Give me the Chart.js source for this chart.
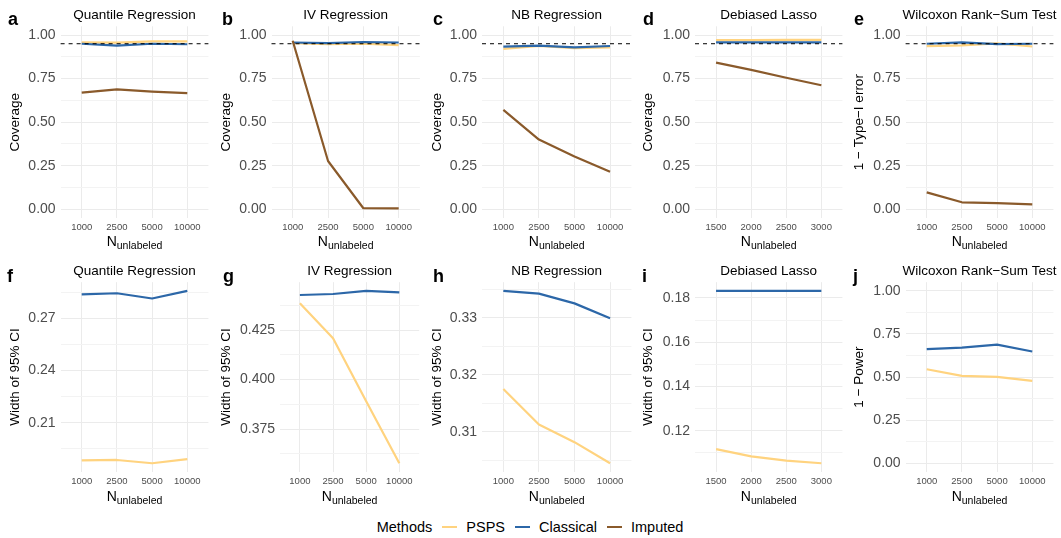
<!DOCTYPE html>
<html>
<head>
<meta charset="utf-8">
<script src="https://cdn.jsdelivr.net/npm/chart.js@4.4.1/dist/chart.umd.min.js"></script>
<style>
  body { margin: 0; background: #fff; width: 1061px; height: 538px; position: relative; overflow: hidden;
         font-family: "Liberation Sans", Arial, sans-serif; }
  canvas { position: absolute; }
  #legend { position: absolute; left: 376.7px; top: 517px; height: 20px; display: flex; align-items: center;
            font-size: 14.5px; color: #000; white-space: nowrap; }
  .sw { display: inline-block; width: 14.6px; height: 2px; margin: 0 9.4px 0 10px; }
</style>
</head>
<body>
<div id="legend">
  <span>Methods</span>
  <span class="sw" style="background:#FFD37F"></span><span>PSPS</span>
  <span class="sw" style="background:#2C67A8"></span><span>Classical</span>
  <span class="sw" style="background:#8A5A2B"></span><span>Imputed</span>
</div>
<script>
// categories on the x axis
const nUnlab = ['1000', '2500', '5000', '10000'];
const nUnlabLasso = ['1500', '2000', '2500', '3000'];

// a  Quantile regression, coverage
const qrCovPSPS = [0.958, 0.956, 0.964, 0.964];
const qrCovClassical = [0.950, 0.939, 0.950, 0.947];
const qrCovImputed = [0.669, 0.688, 0.675, 0.666];
// b  IV regression, coverage
const ivCovPSPS = [0.953, 0.947, 0.951, 0.942];
const ivCovClassical = [0.957, 0.953, 0.960, 0.957];
const ivCovImputed = [0.967, 0.277, 0.006, 0.005];
// c  NB regression, coverage
const nbCovPSPS = [0.920, 0.937, 0.924, 0.929];
const nbCovClassical = [0.933, 0.939, 0.929, 0.937];
const nbCovImputed = [0.570, 0.400, 0.303, 0.215];
// d  Debiased lasso, coverage
const lassoCovPSPS = [0.971, 0.971, 0.972, 0.972];
const lassoCovClassical = [0.958, 0.958, 0.958, 0.958];
const lassoCovImputed = [0.842, 0.800, 0.755, 0.712];
// e  Wilcoxon, 1 - type I error
const wilTypePSPS = [0.936, 0.940, 0.952, 0.934];
const wilTypeClassical = [0.950, 0.958, 0.948, 0.950];
const wilTypeImputed = [0.097, 0.040, 0.035, 0.028];
// f-i  width of 95% CI
const qrWidthPSPS = [0.1884, 0.1886, 0.1867, 0.1891];
const qrWidthClassical = [0.2838, 0.2845, 0.2815, 0.2859];
const ivWidthPSPS = [0.4385, 0.4208, 0.3890, 0.3577];
const ivWidthClassical = [0.4427, 0.4432, 0.4448, 0.4440];
const nbWidthPSPS = [0.3175, 0.3113, 0.3082, 0.3045];
const nbWidthClassical = [0.3347, 0.3342, 0.3325, 0.3299];
const lassoWidthPSPS = [0.1117, 0.1084, 0.1065, 0.1053];
const lassoWidthClassical = [0.1832, 0.1832, 0.1832, 0.1832];
// j  Wilcoxon, 1 - power
const wilPowerPSPS = [0.545, 0.507, 0.501, 0.478];
const wilPowerClassical = [0.662, 0.671, 0.688, 0.648];

// y tick labels
const coverageTicks = ['0.00', '0.25', '0.50', '0.75', '1.00'];
const qrWidthTicks = ['0.21', '0.24', '0.27'];
const ivWidthTicks = ['0.375', '0.400', '0.425'];
const nbWidthTicks = ['0.31', '0.32', '0.33'];
const lassoWidthTicks = ['0.12', '0.14', '0.16', '0.18'];

const nominal = 0.95;

const COLORS = { PSPS: '#FFD37F', Classical: '#2C67A8', Imputed: '#8A5A2B' };
const FONT = '"Liberation Sans", Arial, sans-serif';
const TXT = '#4D4D4D';

const panels = [
  { letter: 'a', title: 'Quantile Regression', yTitle: 'Coverage', cats: nUnlab, yTicks: coverageTicks, fixed: true, hline: nominal,
    series: { PSPS: qrCovPSPS, Classical: qrCovClassical, Imputed: qrCovImputed } },
  { letter: 'b', title: 'IV Regression', yTitle: 'Coverage', cats: nUnlab, yTicks: coverageTicks, fixed: true, hline: nominal,
    series: { PSPS: ivCovPSPS, Classical: ivCovClassical, Imputed: ivCovImputed } },
  { letter: 'c', title: 'NB Regression', yTitle: 'Coverage', cats: nUnlab, yTicks: coverageTicks, fixed: true, hline: nominal,
    series: { PSPS: nbCovPSPS, Classical: nbCovClassical, Imputed: nbCovImputed } },
  { letter: 'd', title: 'Debiased Lasso', yTitle: 'Coverage', cats: nUnlabLasso, yTicks: coverageTicks, fixed: true, hline: nominal,
    series: { PSPS: lassoCovPSPS, Classical: lassoCovClassical, Imputed: lassoCovImputed } },
  { letter: 'e', title: 'Wilcoxon Rank\u2212Sum Test', yTitle: '1 \u2212 Type\u2212I error', cats: nUnlab, yTicks: coverageTicks, fixed: true, hline: nominal,
    series: { PSPS: wilTypePSPS, Classical: wilTypeClassical, Imputed: wilTypeImputed } },
  { letter: 'f', title: 'Quantile Regression', yTitle: 'Width of 95% CI', cats: nUnlab, yTicks: qrWidthTicks,
    series: { PSPS: qrWidthPSPS, Classical: qrWidthClassical } },
  { letter: 'g', title: 'IV Regression', yTitle: 'Width of 95% CI', cats: nUnlab, yTicks: ivWidthTicks,
    series: { PSPS: ivWidthPSPS, Classical: ivWidthClassical } },
  { letter: 'h', title: 'NB Regression', yTitle: 'Width of 95% CI', cats: nUnlab, yTicks: nbWidthTicks,
    series: { PSPS: nbWidthPSPS, Classical: nbWidthClassical } },
  { letter: 'i', title: 'Debiased Lasso', yTitle: 'Width of 95% CI', cats: nUnlabLasso, yTicks: lassoWidthTicks,
    series: { PSPS: lassoWidthPSPS, Classical: lassoWidthClassical } },
  { letter: 'j', title: 'Wilcoxon Rank\u2212Sum Test', yTitle: '1 \u2212 Power', cats: nUnlab, yTicks: coverageTicks, fixed: true,
    series: { PSPS: wilPowerPSPS, Classical: wilPowerClassical } },
];

// where each panel sits on the page
const layout = [
  { left: 0,   top: 0,   w: 211, plotL: 60.6, plotR: 208.4, letterX: 8 },
  { left: 211, top: 0,   w: 211, plotL: 271.5, plotR: 419.9, letterX: 11 },
  { left: 422, top: 0,   w: 211, plotL: 482, plotR: 631.4, letterX: 11 },
  { left: 633, top: 0,   w: 211, plotL: 695, plotR: 842.4, letterX: 10 },
  { left: 844, top: 0,   w: 217, plotL: 905.6, plotR: 1053.4, letterX: 10 },
  { left: 0,   top: 255, w: 211, plotL: 60.6, plotR: 208.4, letterX: 7 },
  { left: 211, top: 255, w: 211, plotL: 280, plotR: 419.2, letterX: 12 },
  { left: 422, top: 255, w: 211, plotL: 482, plotR: 631.4, letterX: 11 },
  { left: 633, top: 255, w: 211, plotL: 695, plotR: 842.4, letterX: 9 },
  { left: 844, top: 255, w: 217, plotL: 905.6, plotR: 1053.4, letterX: 9 },
];

const decor = {
  id: 'decor',
  afterDatasetsDraw(chart, args, o) {
    if (o.hline == null) return;
    const { ctx, chartArea } = chart;
    const py = chart.scales.y.getPixelForValue(o.hline);
    ctx.save();
    ctx.strokeStyle = '#000';
    ctx.lineWidth = 1;
    ctx.setLineDash([4, 4]);
    ctx.beginPath();
    ctx.moveTo(chartArea.left, py);
    ctx.lineTo(chartArea.right, py);
    ctx.stroke();
    ctx.restore();
  },
  afterDraw(chart, args, o) {
    const { ctx, chartArea } = chart;
    const cx = (chartArea.left + chartArea.right) / 2;
    ctx.save();
    ctx.fillStyle = '#000';
    ctx.textBaseline = 'alphabetic';
    // panel letter
    ctx.font = 'bold 18px ' + FONT;
    ctx.textAlign = 'left';
    ctx.fillText(o.letter, o.letterX, o.row ? 26.5 : 25);
    // panel title
    ctx.font = '13.5px ' + FONT;
    ctx.textAlign = 'center';
    ctx.fillText(o.title, cx, o.row ? 19.5 : 18.5);
    // x title: N with subscript
    ctx.textAlign = 'left';
    ctx.font = '14px ' + FONT;
    const wN = ctx.measureText('N').width;
    ctx.font = '10.5px ' + FONT;
    const wS = ctx.measureText('unlabeled').width;
    const x0 = cx - (wN + wS) / 2;
    ctx.font = '14px ' + FONT;
    ctx.fillText('N', x0, 246);
    ctx.font = '10.5px ' + FONT;
    ctx.fillText('unlabeled', x0 + wN, 249);
    ctx.restore();
  }
};

panels.forEach((p, k) => {
  const L = layout[k];
  const row = L.top > 0 ? 1 : 0;
  const H = 255;
  const canvas = document.createElement('canvas');
  canvas.width = L.w;
  canvas.height = H;
  canvas.style.left = L.left + 'px';
  canvas.style.top = L.top + 'px';
  document.body.appendChild(canvas);

  const names = Object.keys(p.series);
  const all = names.flatMap(n => p.series[n]);
  let yMin, yMax;
  if (p.fixed) { yMin = 0; yMax = 1; } else { yMin = Math.min(...all); yMax = Math.max(...all); }
  const pad = (yMax - yMin) * 0.05;
  yMin -= pad; yMax += pad;

  const major = p.yTicks.map(Number);
  const step = major[1] - major[0];
  const minor = [];
  for (let v = major[0] - step / 2; v <= major[major.length - 1] + step / 2 + 1e-9; v += step) {
    if (v >= yMin && v <= yMax) minor.push(v);
  }
  const yTickObjs = major.map((v, i) => ({ value: v, minor: false, text: p.yTicks[i] }))
    .concat(minor.map(v => ({ value: v, minor: true, text: '' })))
    .sort((a, b) => a.value - b.value);

  const order = { Imputed: 0, Classical: 1, PSPS: 2 };
  const datasets = names.map(n => ({
    label: n,
    data: p.cats.map((c, i) => ({ x: i + 1, y: p.series[n][i] })),
    borderColor: COLORS[n],
    backgroundColor: COLORS[n],
    borderWidth: 2.2,
    borderJoinStyle: 'round',
    pointRadius: 0,
    tension: 0,
    order: order[n]
  }));

  const plotTop = row ? 27.2 : 26.3;
  const plotBottom = row ? 216.9 : 218;

  new Chart(canvas, {
    type: 'line',
    data: { datasets },
    plugins: [decor],
    options: {
      responsive: false,
      animation: false,
      layout: { padding: { top: plotTop, right: L.left + L.w - L.plotR, bottom: 0, left: 0 } },
      plugins: {
        legend: { display: false },
        tooltip: { enabled: false },
        decor: { letter: p.letter, title: p.title, hline: p.hline, letterX: L.letterX, row }
      },
      scales: {
        x: {
          type: 'linear',
          min: 0.4,
          max: 4.6,
          afterBuildTicks(s) { s.ticks = p.cats.map((c, i) => ({ value: i + 1 })); },
          afterFit(s) { s.height = H - plotBottom; },
          ticks: {
            autoSkip: false,
            maxRotation: 0,
            padding: 4,
            color: TXT,
            font: { family: FONT, size: 9.5 },
            callback: (v) => p.cats[Math.round(v) - 1]
          },
          grid: { color: '#EBEBEB', lineWidth: 1, drawTicks: false },
          border: { display: false }
        },
        y: {
          type: 'linear',
          min: yMin,
          max: yMax,
          afterBuildTicks(s) { s.ticks = yTickObjs.map(t => ({ ...t })); },
          afterFit(s) { s.width = L.plotL - L.left; },
          ticks: {
            autoSkip: false,
            padding: 5,
            color: TXT,
            font: { family: FONT, size: 14 },
            callback: (v, i, ts) => ts[i].text
          },
          grid: {
            color: c => (c.tick && c.tick.minor) ? '#F3F3F3' : '#EBEBEB',
            lineWidth: 1,
            drawTicks: false
          },
          border: { display: false },
          title: {
            display: true,
            text: p.yTitle,
            color: '#000',
            font: { family: FONT, size: 13.5 },
            padding: { top: 7, bottom: 0 }
          }
        }
      }
    }
  });
});
</script>
</body>
</html>
